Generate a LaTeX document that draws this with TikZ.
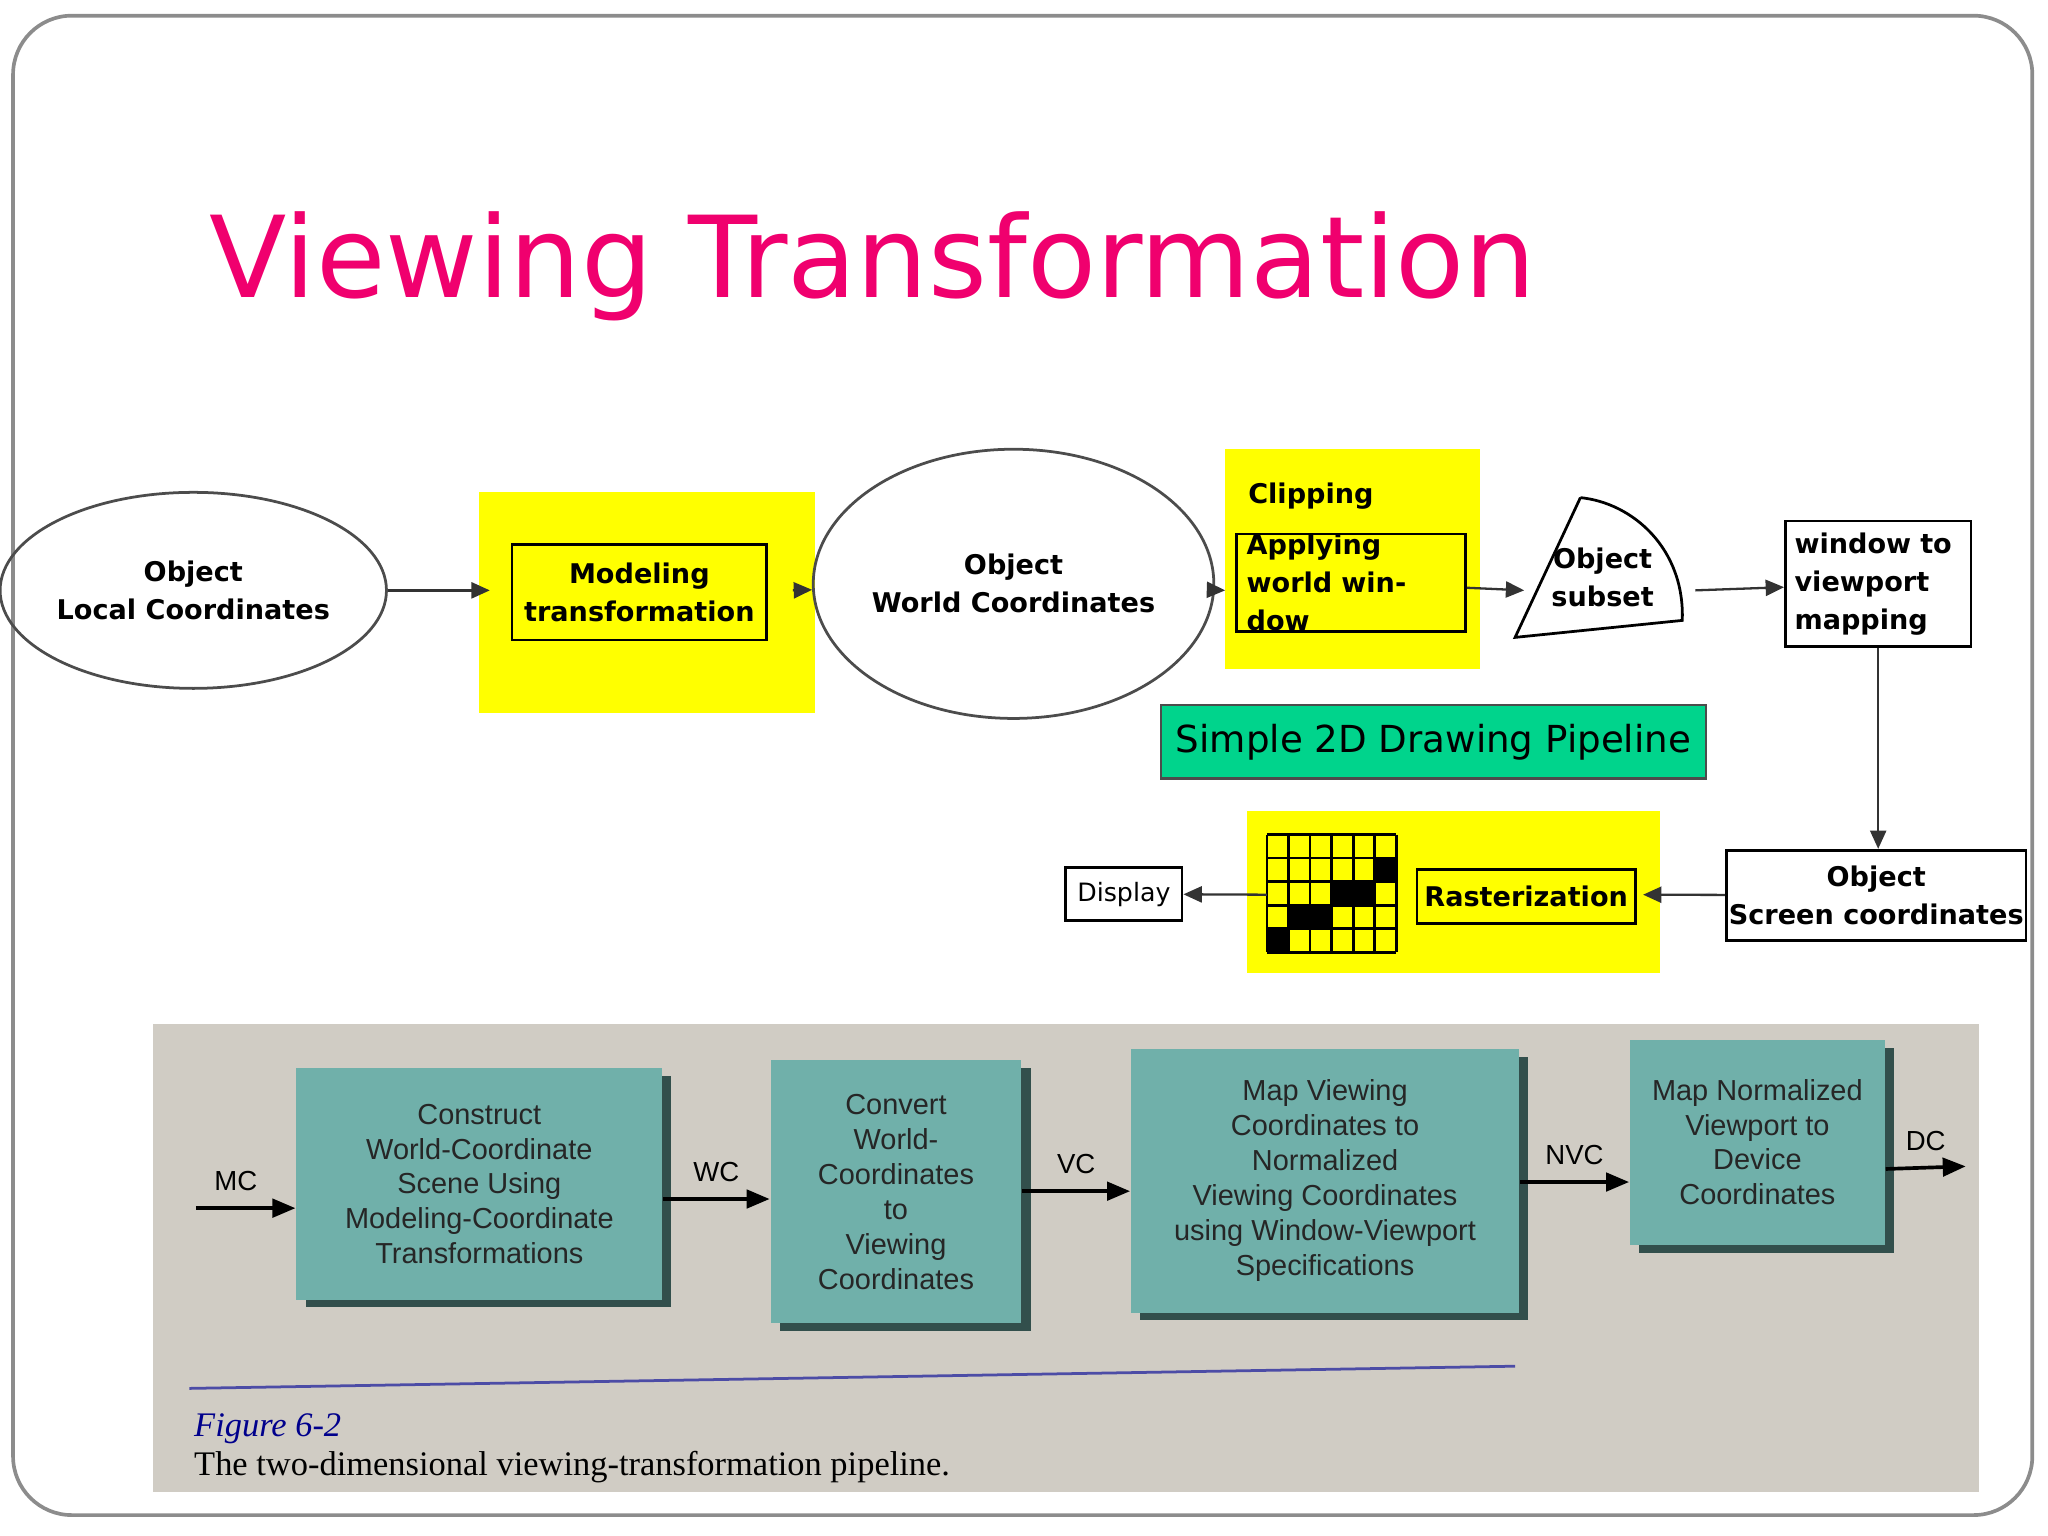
\documentclass[tikz,border=0pt]{standalone}
\usepackage{fontspec}
\setmainfont{DejaVu Sans}
\newfontfamily\photofont{Liberation Sans}
\newfontfamily\capfont{Liberation Serif}
\usetikzlibrary{shapes.geometric,arrows.meta}
\definecolor{ttl}{RGB}{240,0,110}
\definecolor{yel}{RGB}{255,255,0}
\definecolor{grn}{RGB}{0,212,140}
\definecolor{teal}{RGB}{112,176,170}
\definecolor{photobg}{RGB}{208,204,196}
\begin{document}
\begin{tikzpicture}[x=0.01cm,y=-0.01cm,
  lbl/.style={font=\fontsize{5.9}{8.3}\selectfont\bfseries,align=center},
  box/.style={draw,line width=0.6pt,inner sep=0pt},
  yb/.style={fill=yel,draw=none},
  arr/.style={-{Triangle[length=4pt,width=3.5pt]},line width=0.5pt,draw=black!80},
  pbox/.style={fill=teal,draw=none,font=\photofont\fontsize{6.3}{7.6}\selectfont,align=center,text=black!85},
  parr/.style={-{Triangle[length=5pt,width=4pt]},line width=0.8pt},
  plbl/.style={font=\photofont\fontsize{6}{7}\selectfont}]
\useasboundingbox (0,0) rectangle (1568,1176);
\draw[black!45,line width=0.8pt,rounded corners=0.45cm] (10,12) rectangle (1556,1160);
\node[anchor=base west,text=ttl,font=\fontsize{24.6}{28}\selectfont,inner sep=0] (title) at (160,228) {Viewing Transformation};
% top row
\node[ellipse,draw=black!70,line width=0.6pt,minimum width=2.84cm,minimum height=1.5cm,inner sep=0,lbl] (olc) at (148,452) {Object\\Local Coordinates};
\fill[yb] (367,377) rectangle (624,546);
\node[box,minimum width=1.95cm,minimum height=0.73cm,lbl] (mod) at (489.5,453.5) {Modeling\\transformation};
\node[ellipse,draw=black!70,line width=0.6pt,minimum width=2.26cm,minimum height=2.06cm,inner sep=0,lbl] (owc) at (776,447) {Object\\World Coordinates};
\fill[yb] (938,344) rectangle (1133,512);
\node[anchor=west,lbl,inner sep=0] (clip) at (955,380) {Clipping};
\node[box,minimum width=1.75cm,minimum height=0.68cm,lbl,align=left,text width=1.6cm] (app) at (1034.5,446) {Applying\\world window};
\draw[line width=0.6pt] (1210,381) -- (1160,488) -- (1288,475) .. controls (1290,420) and (1250,385) .. (1210,381);
\node[lbl] (sub) at (1227,442) {Object\\subset};
\node[box,minimum width=1.42cm,minimum height=0.96cm,lbl,align=left,text width=1.28cm] (win) at (1438,447) {window to\\viewport\\mapping};
\node[fill=grn,draw=black!70,line width=0.5pt,minimum width=4.17cm,minimum height=0.56cm,inner sep=0,font=\fontsize{8.1}{10}\selectfont] (pipe) at (1097.5,568) {Simple 2D Drawing Pipeline};
% bottom row
\fill[yb] (955,621) rectangle (1271,745);
\foreach \c/\r in {5/1,3/2,4/2,1/3,2/3,0/4}
  \fill (970+\c*16.5,639+\r*18) rectangle ++(16.5,18);
\foreach \i in {0,...,6} \draw[line width=0.6pt] (970+\i*16.5,639) -- (970+\i*16.5,729);
\foreach \j in {0,...,5} \draw[line width=0.6pt] (970,639+\j*18) -- (1069,639+\j*18);
\coordinate (gridL) at (970,685);
\node[box,minimum width=1.67cm,minimum height=0.41cm,lbl] (ras) at (1168.5,686.5) {Rasterization};
\node[box,minimum width=2.29cm,minimum height=0.69cm,lbl] (scr) at (1436.5,685.5) {Object\\Screen coordinates};
\node[box,minimum width=0.89cm,minimum height=0.41cm,font=\fontsize{5.5}{7}\selectfont] (disp) at (860.5,684.5) {Display};
% arrows
\coordinate (a1) at (375,452);
\coordinate (a2) at (607,452);
\coordinate (a3) at (938,452);
\coordinate (a4) at (1167,452);
\coordinate (a5) at (1298,452);
\coordinate (a6) at (1258,685);
\draw[arr] (olc) -- (a1);
\draw[arr] (a2) -- (owc);
\draw[arr] (owc) -- (a3);
\draw[arr] (app) -- (a4);
\draw[arr] (a5) -- (win);
\draw[arr] (win.south) -- (scr.north -| win.south);
\draw[arr] (scr) -- (a6);
\draw[arr] (gridL) -- (disp);
% photo
\fill[photobg] (117,784) rectangle (1515,1142);
\foreach \x/\y/\w/\h in {227/818/280/177,590/812/192/201,866/803/297/202,1248/796/195/157}
  \fill[black!55!teal] (\x+7,\y+6) rectangle ++(\w,\h);
\node[pbox,minimum width=2.8cm,minimum height=1.77cm] (b1) at (367,906.5) {Construct\\World-Coordinate\\Scene Using\\Modeling-Coordinate\\Transformations};
\node[pbox,minimum width=1.92cm,minimum height=2.01cm] (b2) at (686,912.5) {Convert\\World-\\Coordinates\\to\\Viewing\\Coordinates};
\node[pbox,minimum width=2.97cm,minimum height=2.02cm] (b3) at (1014.5,904) {Map Viewing\\Coordinates to\\Normalized\\Viewing Coordinates\\using Window-Viewport\\Specifications};
\node[pbox,minimum width=1.95cm,minimum height=1.57cm] (b4) at (1345.5,874.5) {Map Normalized\\Viewport to\\Device\\Coordinates};
\coordinate (mc) at (150,925);
\coordinate (dc) at (1505,893);
\draw[parr] (mc) -- (b1.west |- mc) node[pos=0.4,above,plbl] {MC};
\draw[parr] (b1.east |- 0,918) -- (b2.west |- 0,918) node[midway,above,plbl] {WC};
\draw[parr] (b2.east |- 0,912) -- (b3.west |- 0,912) node[midway,above,plbl] {VC};
\draw[parr] (b3.east |- 0,905) -- (b4.west |- 0,905) node[midway,above,plbl] {NVC};
\draw[parr] (b4.east |- 0,895) -- (dc) node[midway,above,plbl] {DC};
\draw[blue!50!black!70,line width=0.6pt] (145,1063) -- (1160,1046);
\node[anchor=base west,inner sep=0,text=blue!55!black,font=\capfont\itshape\fontsize{7.5}{9}\selectfont] (fig) at (148,1100) {Figure 6-2};
\node[anchor=base west,inner sep=0,font=\capfont\fontsize{7.5}{9}\selectfont] (cap) at (148,1130) {The two-dimensional viewing-transformation pipeline.};
\end{tikzpicture}
\end{document}
